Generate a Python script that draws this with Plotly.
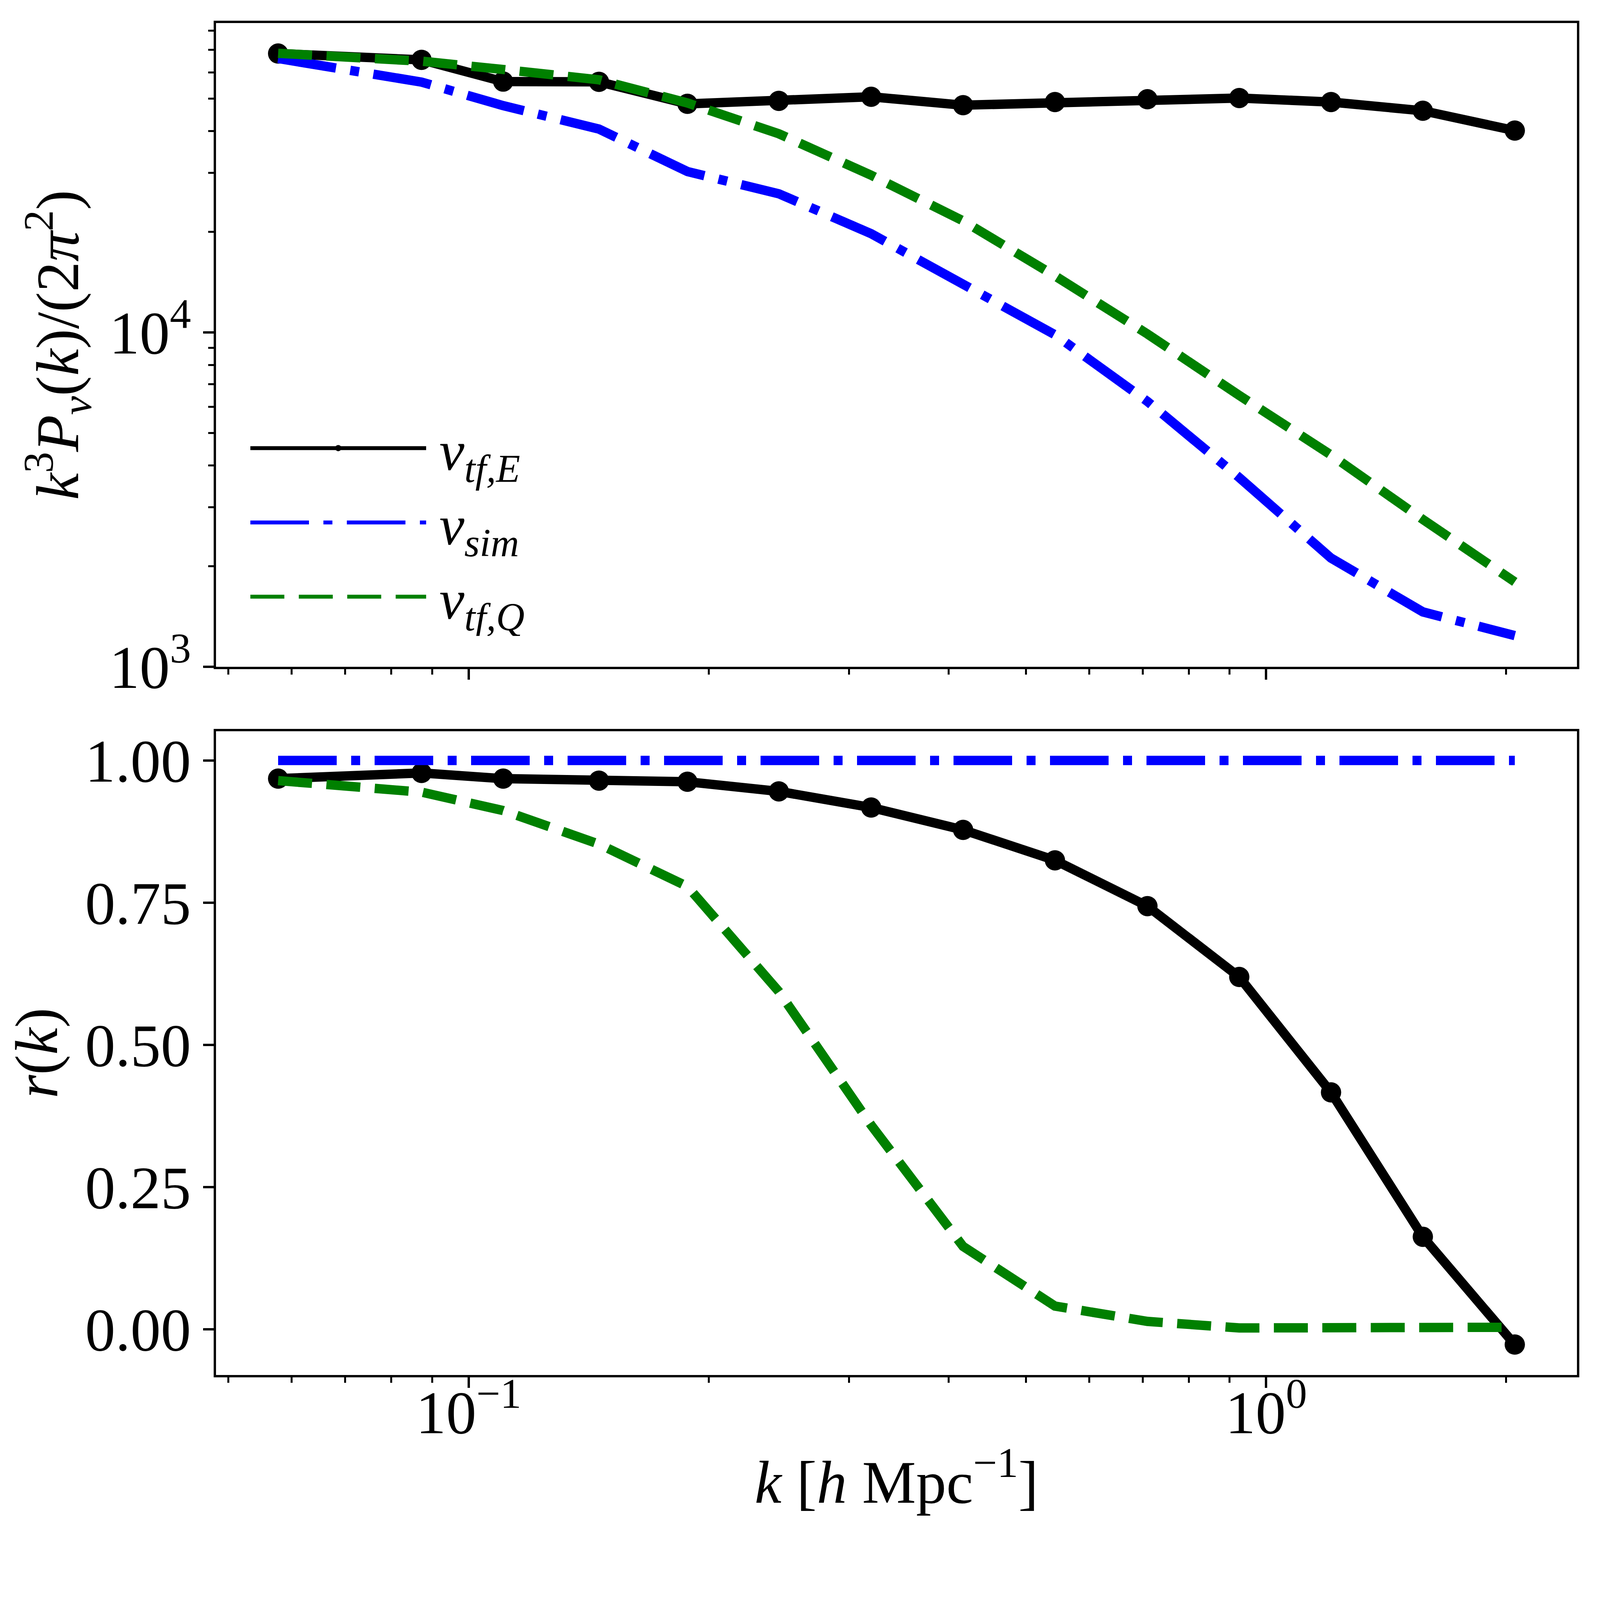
import plotly.graph_objects as go

# ---- data ----
k = [0.0577, 0.0873, 0.1105, 0.1457, 0.1881, 0.2449, 0.3197, 0.4169,
     0.5435, 0.7098, 0.9253, 1.206, 1.572, 2.050]

pk_tfE = [68300, 65400, 56300, 56200, 48300, 49300, 50700, 47850,
          48900, 49850, 50270, 48900, 46050, 40170]
pk_sim = [66000, 56100, 47700, 40600, 30300, 26000, 19750, 14050,
          9850, 6220, 3682, 2115, 1460, 1240]
pk_tfQ = [68400, 64800, 61200, 57000, 48600, 39300, 29540, 21570,
          14770, 9900, 6483, 4302, 2760, 1795]

r_tfE = [0.968, 0.978, 0.968, 0.9645, 0.9625, 0.9456, 0.9172, 0.8779,
         0.8244, 0.7439, 0.6193, 0.4164, 0.1626, -0.0269]
r_sim = [1.0, 1.0, 1.0, 1.0, 1.0, 1.0, 1.0, 1.0, 1.0, 1.0, 1.0, 1.0, 1.0, 1.0]
r_tfQ = [0.9645, 0.9443, 0.9119, 0.8529, 0.7784, 0.5937, 0.3588, 0.1456,
         0.0408, 0.0138, 0.0023, 0.0015, 0.002, 0.0035]

names = ["\u2009<i>v</i><sub><i>tf,E</i></sub>",
         "\u2009<i>v</i><sub><i>sim</i></sub>",
         "\u2009<i>v</i><sub><i>tf,Q</i></sub>"]

y_major_top = [1e3, 1e4]
y_major_top_text = ["10<sup>3</sup>", "10<sup>4</sup>"]
y_minor_top = [2e3, 3e3, 4e3, 5e3, 6e3, 7e3, 8e3, 9e3,
               2e4, 3e4, 4e4, 5e4, 6e4, 7e4, 8e4]
x_major = [0.1, 1.0]
x_major_text = ["10<sup>\u22121</sup>", "10<sup>0</sup>"]
x_minor = [0.05, 0.06, 0.07, 0.08, 0.09, 0.2, 0.3, 0.4, 0.5, 0.6, 0.7,
           0.8, 0.9, 2.0]
r_ticks = [0.0, 0.25, 0.5, 0.75, 1.0]
r_ticktext = ["0.00", "0.25", "0.50", "0.75", "1.00"]

# ---- styling ----
FONT = "Liberation Serif, DejaVu Serif, serif"
FS = 155
LFS = 144
LW = 24
MS = 52
BLACK = "black"
BLUE = "#0000ff"
GREEN = "#008000"
DASHDOT = "150px,37px,23px,37px"
DASHED = "87px,37px"

fig = go.Figure()

# top panel
fig.add_trace(go.Scatter(x=k, y=pk_tfE, mode="lines+markers", name=names[0],
                         line=dict(color=BLACK, width=LW),
                         marker=dict(color=BLACK, size=MS),
                         xaxis="x", yaxis="y", legendgroup="a"))
fig.add_trace(go.Scatter(x=k, y=pk_sim, mode="lines", name=names[1],
                         line=dict(color=BLUE, width=LW, dash=DASHDOT),
                         xaxis="x", yaxis="y", legendgroup="b"))
fig.add_trace(go.Scatter(x=k, y=pk_tfQ, mode="lines", name=names[2],
                         line=dict(color=GREEN, width=LW, dash=DASHED),
                         xaxis="x", yaxis="y", legendgroup="c"))
# bottom panel
fig.add_trace(go.Scatter(x=k, y=r_tfE, mode="lines+markers", name=names[0],
                         line=dict(color=BLACK, width=LW),
                         marker=dict(color=BLACK, size=MS),
                         xaxis="x2", yaxis="y2", showlegend=False, legendgroup="a"))
fig.add_trace(go.Scatter(x=k, y=r_sim, mode="lines", name=names[1],
                         line=dict(color=BLUE, width=LW, dash=DASHDOT),
                         xaxis="x2", yaxis="y2", showlegend=False, legendgroup="b"))
fig.add_trace(go.Scatter(x=k, y=r_tfQ, mode="lines", name=names[2],
                         line=dict(color=GREEN, width=LW, dash=DASHED),
                         xaxis="x2", yaxis="y2", showlegend=False, legendgroup="c"))

axis_common = dict(showline=True, linecolor=BLACK, linewidth=6, mirror=True,
                   ticks="outside", ticklen=27, tickwidth=6, tickcolor=BLACK,
                   showgrid=False, zeroline=False,
                   tickfont=dict(family=FONT, size=FS, color=BLACK))
minor_common = dict(ticks="outside", ticklen=14, tickwidth=4.5, tickcolor=BLACK,
                    showgrid=False)

xr = [-1.3167, 0.3897]

fig.update_layout(
    width=4070, height=3955, autosize=False,
    margin=dict(l=545, r=41, t=51, b=443),
    paper_bgcolor="white", plot_bgcolor="white",
    font=dict(family=FONT, size=FS, color=BLACK),
    xaxis=dict(type="log", range=xr, domain=[0, 1], anchor="y",
               tickvals=x_major, ticktext=x_major_text, showticklabels=False,
               minor=dict(tickvals=x_minor, **minor_common), **axis_common),
    yaxis=dict(type="log", range=[3, 4.9256], domain=[0.5238, 1], anchor="x",
               tickvals=y_major_top, ticktext=y_major_top_text,
               minor=dict(tickvals=y_minor_top, **minor_common),
               title=dict(text="<i>k</i><sup>3</sup><i>P</i><sub><i>v</i></sub>(<i>k</i>)/(2<i>\u03c0</i><sup>2</sup>)",
                          font=dict(family=FONT, size=FS, color=BLACK), standoff=28),
               **axis_common),
    xaxis2=dict(type="log", range=xr, domain=[0, 1], anchor="y2", matches="x",
                tickvals=x_major, ticktext=x_major_text, ticklabelstandoff=-70,
                minor=dict(tickvals=x_minor, **minor_common),
                title=dict(text="<i>k</i> [<i>h</i> Mpc<sup>\u22121</sup>]",
                           font=dict(family=FONT, size=FS, color=BLACK), standoff=38),
                **axis_common),
    yaxis2=dict(range=[-0.0804, 1.0514], domain=[0, 0.4762], anchor="x2",
                tickvals=r_ticks, ticktext=r_ticktext,
                title=dict(text="<i>r</i>(<i>k</i>)",
                           font=dict(family=FONT, size=FS, color=BLACK), standoff=47),
                **axis_common),
    legend=dict(x=0.0238, y=0.7145, xanchor="left", yanchor="top",
                bgcolor="rgba(0,0,0,0)", borderwidth=0,
                font=dict(family=FONT, size=LFS, color=BLACK),
                itemwidth=450, tracegroupgap=0),
    showlegend=True,
)

fig.write_html("out.html")
